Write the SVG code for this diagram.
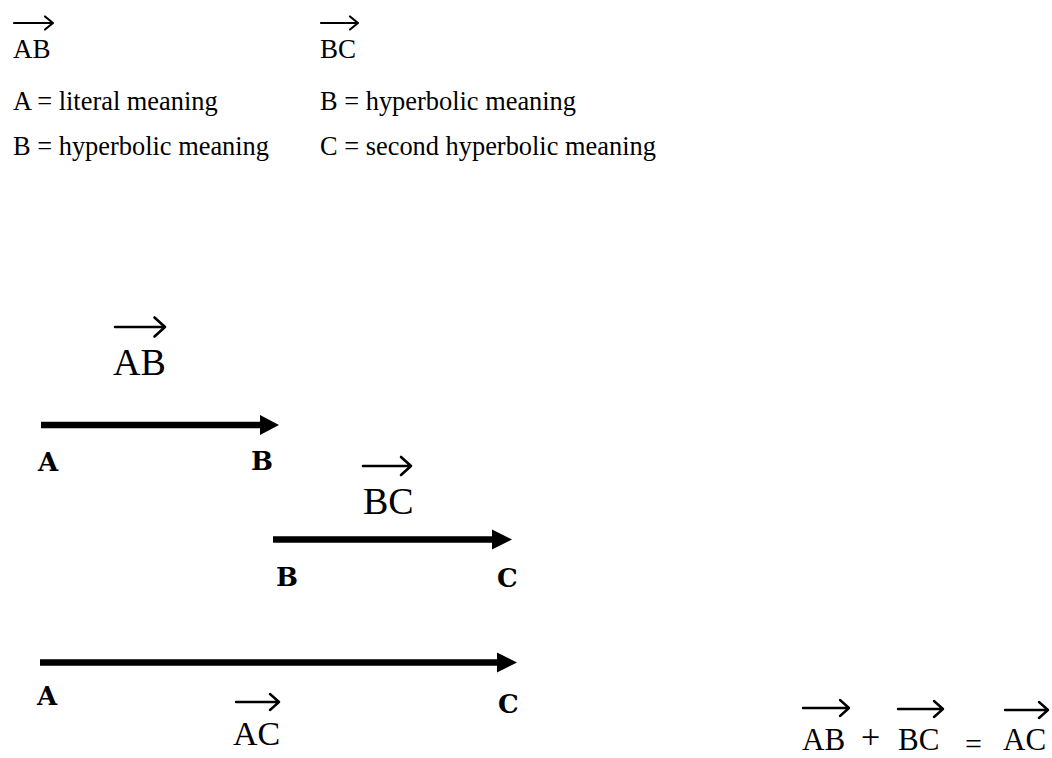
<svg xmlns="http://www.w3.org/2000/svg" width="1052" height="758" viewBox="0 0 1052 758">
<style>
.bg{fill:#fff}
.def{font-family:"Liberation Serif","Times New Roman",serif;font-size:26.4px;fill:#000}
.vec{font-family:"Liberation Serif","Times New Roman",serif;fill:#000}
.lbl{font-family:"DejaVu Serif","Liberation Serif",serif;font-weight:bold;font-size:26px;fill:#000}
.ov{fill:none;stroke:#000;stroke-linecap:round;stroke-linejoin:round}
.shaft{stroke:#000;stroke-width:6.5;fill:none}
.head{fill:#000}
.op{font-family:"Liberation Serif","Times New Roman",serif;fill:#000}
</style>
<rect class="bg" x="0" y="0" width="1052" height="758"/>

<g id="legend">
  <g id="legend-ab">
    <path class="ov" stroke-width="2.2" d="M14 23 H53 M45 16.5 L53 23 L45 29.5"/>
    <text class="vec" x="13" y="58" font-size="27">AB</text>
  </g>
  <g id="legend-bc">
    <path class="ov" stroke-width="2.2" d="M321 23 H358 M350 16.5 L358 23 L350 29.5"/>
    <text class="vec" x="320" y="58" font-size="27">BC</text>
  </g>
  <text class="def" x="13" y="110">A = literal meaning</text>
  <text class="def" x="13" y="155">B = hyperbolic meaning</text>
  <text class="def" x="320" y="110">B = hyperbolic meaning</text>
  <text class="def" x="320" y="155">C = second hyperbolic meaning</text>
</g>

<g id="connectors">
  <g id="vector-ab-arrow">
    <line class="shaft" x1="41" y1="425" x2="262" y2="425"/>
    <polygon class="head" points="260,415 279,425 260,435"/>
  </g>
  <g id="vector-bc-arrow">
    <line class="shaft" x1="273" y1="539.5" x2="494" y2="539.5"/>
    <polygon class="head" points="492,529.5 512,539.5 492,549.5"/>
  </g>
  <g id="vector-ac-arrow">
    <line class="shaft" x1="40" y1="662.5" x2="499" y2="662.5"/>
    <polygon class="head" points="497,652.5 517,662.5 497,672.5"/>
  </g>
</g>

<g id="node-ab-title">
  <path class="ov" stroke-width="2.6" d="M115 327 H165 M154.5 317.5 L165 327 L154.5 336.5"/>
  <text class="vec" x="113" y="375" font-size="38">AB</text>
</g>
<g id="node-a1"><text class="lbl" x="38" y="471">A</text></g>
<g id="node-b1"><text class="lbl" x="251" y="470">B</text></g>

<g id="node-bc-title">
  <path class="ov" stroke-width="2.6" d="M363 466 H411 M401 457 L411 466 L401 475"/>
  <text class="vec" x="363" y="514" font-size="38">BC</text>
</g>
<g id="node-b2"><text class="lbl" x="276" y="586">B</text></g>
<g id="node-c1"><text class="lbl" x="497" y="587">C</text></g>

<g id="node-a2"><text class="lbl" x="37" y="705">A</text></g>
<g id="node-c2"><text class="lbl" x="498" y="713">C</text></g>
<g id="node-ac-title">
  <path class="ov" stroke-width="2.4" d="M236 702 H279 M270 694 L279 702 L270 710"/>
  <text class="vec" x="233" y="745" font-size="34">AC</text>
</g>

<g id="equation">
  <path class="ov" stroke-width="2.4" d="M803 708 H849 M840 700 L849 708 L840 716"/>
  <text class="vec" x="802" y="750" font-size="31">AB</text>
  <text class="op" x="861" y="748" font-size="34">+</text>
  <path class="ov" stroke-width="2.4" d="M898 709 H943 M934 701 L943 709 L934 717"/>
  <text class="vec" x="898" y="750" font-size="31">BC</text>
  <text class="op" x="965" y="754" font-size="30">=</text>
  <path class="ov" stroke-width="2.4" d="M1005 710 H1048 M1039 702 L1048 710 L1039 718"/>
  <text class="vec" x="1003" y="750" font-size="31">AC</text>
</g>
</svg>
